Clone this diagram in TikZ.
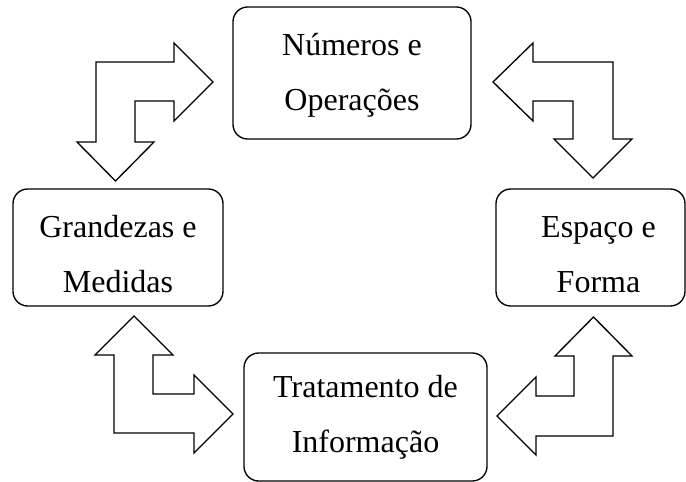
\documentclass[tikz,border=0pt]{standalone}
\usepackage{fontspec}
\setmainfont{Liberation Serif}
\usepackage{tikz}
\usetikzlibrary{positioning,calc}
\tikzstyle{bloco}=[draw,rounded corners=11pt,line width=1pt,align=center,
               inner sep=0pt,outer sep=0pt,
               font=\fontsize{24}{41.5}\selectfont]
\tikzstyle{seta}=[draw,line width=1pt,line join=miter,fill=white]

\begin{document}
\begin{tikzpicture}[x=0.75pt,y=-0.75pt]

% % % % % % % % % % % % % % %

\useasboundingbox (0,0) rectangle (686,482);

\node[bloco,minimum width=178.5pt,minimum height=99pt] (numeros) at (352,73) {\rule{0pt}{20pt}N\'umeros e\\Opera\c{c}\~oes};
\node[bloco,minimum width=157.5pt,minimum height=87.75pt] (grandezas) at (118,247.5) {\rule{0pt}{26pt}Grandezas e\\Medidas};
\node[bloco,minimum width=141.75pt,minimum height=87.75pt] (espaco) at (590.5,247.5) {\rule{0pt}{26pt}\hspace{12pt}Espa\c{c}o e\\\hspace{12pt}Forma};
\node[bloco,minimum width=182.25pt,minimum height=96pt] (tratamento) at (365.5,417) {Tratamento de\\Informa\c{c}\~ao};

% setas duplas
\draw[seta] (96,62)--(174,62)--(174,43)--(213,82)--(174,121)--(174,101)--(135,101)
  --(135,142)--(154,142)--(115.5,181)--(77,142)--(96,142)--cycle;

\draw[seta] (493,82)--(533,43)--(533,62)--(613,62)--(613,139)--(632,139)--(593,178)
  --(554,139)--(573,139)--(573,101)--(533,101)--(533,121)--cycle;

\draw[seta] (134,316)--(173,355)--(153,355)--(153,394)--(194,394)--(194,375)--(233,414)
  --(194,453)--(194,433)--(114,433)--(114,355)--(95,355)--cycle;

\draw[seta] (593.5,317)--(632,356)--(613,356)--(613,436)--(536,436)--(536,455)--(497,416)
  --(536,377)--(536,396)--(574,396)--(574,356)--(555,356)--cycle;

\end{tikzpicture}
\end{document}
